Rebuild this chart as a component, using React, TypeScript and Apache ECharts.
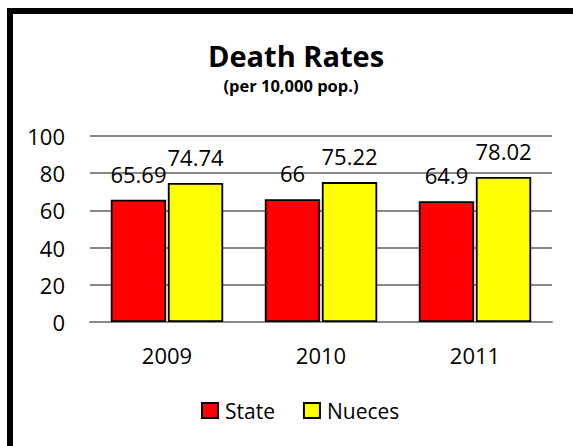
import React, { useEffect, useRef } from "react";
import * as echarts from "echarts";

const categories = ["2009", "2010", "2011"];
const stateValues = [65.69, 66, 64.9];
const nuecesValues = [74.74, 75.22, 78.02];
const yTicks = [0, 20, 40, 60, 80, 100];

const FONT = "'Open Sans', 'Noto Sans', sans-serif";

export default function App() {
  const ref = useRef<HTMLDivElement>(null);
  useEffect(() => {
    document.body.style.margin = "0";
    const chart = echarts.init(ref.current!, null, { renderer: "svg" });
    const labelStyle = {
      show: true,
      position: "top" as const,
      distance: 15,
      color: "#000",
      fontSize: 22,
      fontFamily: FONT,
    };
    chart.setOption({
      animation: false,
      backgroundColor: "#fff",
      title: [
        {
          text: "Death Rates",
          left: 291,
          textAlign: "center",
          top: 36,
          textStyle: { fontSize: 29, fontWeight: "bold", color: "#000", fontFamily: FONT },
        },
        {
          text: "(per 10,000 pop.)",
          left: 286,
          textAlign: "center",
          top: 72,
          textStyle: { fontSize: 16.5, fontWeight: "bold", color: "#000", fontFamily: FONT },
        },
      ],
      legend: {
        data: ["State", "Nueces"],
        top: 395,
        left: 196,
        itemWidth: 16,
        itemHeight: 15,
        itemGap: 28,
        icon: "rect",
        textStyle: { fontSize: 21, color: "#000", fontFamily: FONT, padding: [0, 0, 0, 2] },
      },
      grid: { left: 90, right: 21, top: 136, bottom: 124, containLabel: false },
      xAxis: {
        type: "category",
        data: categories,
        axisLine: { lineStyle: { color: "#888", width: 2 } },
        axisTick: { show: false },
        axisLabel: { fontSize: 22, color: "#000", fontFamily: FONT, margin: 22 },
      },
      yAxis: {
        type: "value",
        min: yTicks[0],
        max: yTicks[yTicks.length - 1],
        interval: 20,
        axisLine: { show: false },
        axisTick: { show: false },
        splitLine: { lineStyle: { color: "#888", width: 2 } },
        axisLabel: { fontSize: 22, color: "#000", fontFamily: FONT, margin: 25 },
      },
      series: [
        {
          name: "State",
          type: "bar",
          data: stateValues,
          barGap: "3%",
          barCategoryGap: "27%",
          itemStyle: { color: "#ff0000", borderColor: "#000", borderWidth: 1.8 },
          label: labelStyle,
        },
        {
          name: "Nueces",
          type: "bar",
          data: nuecesValues,
          itemStyle: { color: "#ffff00", borderColor: "#000", borderWidth: 1.8 },
          label: labelStyle,
        },
      ],
      graphic: [
        {
          type: "rect",
          shape: { x: 10, y: 11, width: 700, height: 600 },
          style: { fill: "none", stroke: "#000", lineWidth: 6 },
          z: 100,
          silent: true,
        },
      ],
    });
    return () => chart.dispose();
  }, []);
  return <div ref={ref} style={{ width: 573, height: 446 }} />;
}
